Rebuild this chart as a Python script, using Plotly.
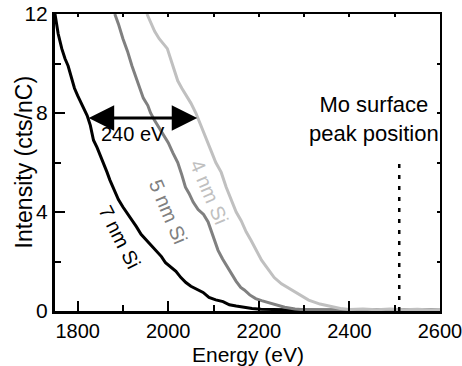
import plotly.graph_objects as go

# 7 nm Si (black)
e7 = [1750, 1753, 1757, 1765, 1772, 1779, 1786, 1793, 1800, 1805, 1812, 1821, 1828, 1835, 1843,
      1850, 1857, 1865, 1871, 1880, 1890, 1900, 1910, 1921, 1930, 1940, 1955, 1972, 1985, 1994,
      2005, 2017, 2028, 2039, 2050, 2065, 2077, 2090, 2105, 2121, 2135, 2150, 2166, 2185, 2205,
      2230, 2260, 2300, 2350, 2400, 2450, 2500, 2550, 2600]
i7 = [12.0, 11.6, 11.2, 10.6, 10.2, 9.9, 9.5, 9.0, 8.7, 8.5, 8.2, 7.9, 7.5, 6.9, 6.6,
      6.3, 6.0, 5.6, 5.3, 4.9, 4.5, 4.2, 3.95, 3.65, 3.4, 3.1, 2.8, 2.5, 2.2, 1.95,
      1.8, 1.6, 1.35, 1.15, 1.0, 0.85, 0.75, 0.55, 0.45, 0.38, 0.25, 0.2, 0.15, 0.1, 0.07,
      0.05, 0.05, 0.04, 0.03, 0.04, 0.03, 0.04, 0.03, 0.03]

# 5 nm Si (dark gray)
e5 = [1882, 1890, 1900, 1910, 1920, 1928, 1935, 1945, 1955, 1961, 1970, 1980, 1990, 2000, 2010,
      2021, 2030, 2038, 2046, 2055, 2066, 2078, 2088, 2097, 2104, 2110, 2120, 2130, 2139, 2150,
      2160, 2168, 2180, 2193, 2206, 2220, 2235, 2257, 2280, 2300, 2340, 2400, 2450, 2500, 2550, 2600]
i5 = [12.0, 11.6, 11.0, 10.5, 9.9, 9.5, 9.1, 8.6, 8.3, 8.0, 7.7, 7.4, 7.1, 6.8, 6.4,
      6.0, 5.5, 5.0, 4.75, 4.4, 4.1, 3.9, 3.6, 3.1, 2.8, 2.45, 2.1, 1.8, 1.5, 1.2,
      0.95, 0.85, 0.65, 0.5, 0.42, 0.35, 0.25, 0.15, 0.08, 0.05, 0.04, 0.05, 0.04, 0.05, 0.04, 0.05]

# 4 nm Si (light gray)
e4 = [1953, 1960, 1970, 1980, 1990, 1998, 2005, 2012, 2021, 2030, 2040, 2050, 2061, 2070, 2080,
      2094, 2105, 2117, 2128, 2139, 2150, 2161, 2172, 2183, 2195, 2206, 2220, 2234, 2250, 2272,
      2290, 2310, 2335, 2361, 2380, 2400, 2430, 2460, 2490, 2520, 2550, 2580, 2600]
i4 = [12.0, 11.7, 11.3, 11.0, 10.8, 10.6, 10.2, 9.8, 9.3, 9.0, 8.7, 8.4, 8.0, 7.6, 7.2,
      6.5, 6.0, 5.6, 5.0, 4.5, 4.0, 3.65, 3.2, 2.85, 2.4, 2.05, 1.7, 1.35, 1.1, 0.85,
      0.65, 0.44, 0.28, 0.16, 0.1, 0.06, 0.08, 0.05, 0.08, 0.05, 0.07, 0.04, 0.06]

x_ticks = [1800, 2000, 2200, 2400, 2600]
y_ticks = [0, 4, 8, 12]
x_range = [1750, 2600]
y_range = [0, 12]
mo_peak = 2510
mo_line_top = 6.1
arrow_from, arrow_to, arrow_y = 1821, 2064, 7.8

FONT = "Arial, Liberation Sans, sans-serif"

fig = go.Figure()
fig.add_trace(go.Scatter(x=e7, y=i7, mode="lines", line=dict(color="#000000", width=3)))
fig.add_trace(go.Scatter(x=e5, y=i5, mode="lines", line=dict(color="#808080", width=3)))
fig.add_trace(go.Scatter(x=e4, y=i4, mode="lines", line=dict(color="#c0c0c0", width=3)))
fig.add_trace(go.Scatter(x=[mo_peak, mo_peak], y=[0, mo_line_top], mode="lines",
                         line=dict(color="#000000", width=2.5, dash="4px,7px")))
# helper trace so the mirrored (top/right) axes get drawn
fig.add_trace(go.Scatter(x=x_range, y=y_range, xaxis="x2", yaxis="y2", mode="markers",
                         marker=dict(opacity=0), hoverinfo="skip"))

fig.update_layout(
    width=462, height=366,
    margin=dict(l=55, r=22, t=14, b=55, autoexpand=False),
    paper_bgcolor="white", plot_bgcolor="white",
    showlegend=False,
    font=dict(family=FONT, size=20, color="black"),
    xaxis=dict(range=x_range, tickvals=x_ticks, ticks="inside", ticklen=10, tickwidth=2,
               tickcolor="black", showline=True, linewidth=3, linecolor="black",
               showgrid=False, zeroline=False, ticklabeloverflow="allow",
               automargin=False,
               minor=dict(dtick=100, tick0=1800, ticks="inside", ticklen=6, tickwidth=2,
                          tickcolor="black", showgrid=False),
               tickfont=dict(size=20)),
    yaxis=dict(range=y_range, tickvals=y_ticks, ticks="inside", ticklen=10, tickwidth=2,
               tickcolor="black", showline=True, linewidth=3, linecolor="black",
               showgrid=False, zeroline=False, ticklabeloverflow="allow", automargin=False,
               minor=dict(dtick=2, tick0=0, ticks="inside", ticklen=6, tickwidth=2,
                          tickcolor="black", showgrid=False),
               tickfont=dict(size=21)),
    xaxis2=dict(range=x_range, overlaying="x", side="top", anchor="y2", ticks="inside",
                ticklen=3, tickwidth=1.5, tickcolor="black", dtick=100, tick0=1800,
                showticklabels=False, showline=True, linewidth=2, linecolor="black",
                showgrid=False, zeroline=False, automargin=False),
    yaxis2=dict(range=y_range, overlaying="y", side="right", anchor="x2", ticks="inside",
                ticklen=3, tickwidth=1.5, tickcolor="black", dtick=2, tick0=0,
                showticklabels=False, showline=True, linewidth=2, linecolor="black",
                showgrid=False, zeroline=False, automargin=False),
)

ann = []
ann.append(dict(x=arrow_to, y=arrow_y, ax=arrow_from, ay=arrow_y, xref="x", yref="y",
                axref="x", ayref="y", text="", showarrow=True, arrowhead=2, startarrowhead=2,
                arrowside="end+start", arrowwidth=3, arrowsize=1.7, startarrowsize=1.7,
                arrowcolor="black"))
ann.append(dict(x=1922, y=7.15, xref="x", yref="y", text="240 eV", showarrow=False,
                font=dict(size=20, color="black")))
ann.append(dict(x=2455, y=7.75, xref="x", yref="y", text="Mo surface<br>peak position",
                showarrow=False, font=dict(size=22, color="black")))
ann.append(dict(x=1893, y=3.0, xref="x", yref="y", text="7 nm Si", showarrow=False,
                textangle=63, font=dict(size=20, color="black")))
ann.append(dict(x=2000, y=4.0, xref="x", yref="y", text="5 nm Si", showarrow=False,
                textangle=67, font=dict(size=20, color="#808080")))
ann.append(dict(x=2090, y=4.8, xref="x", yref="y", text="4 nm Si", showarrow=False,
                textangle=67, font=dict(size=20, color="#c0c0c0")))
ann.append(dict(x=0, y=0.5, xref="paper", yref="paper", xshift=-32, text="Intensity (cts/nC)",
                showarrow=False, textangle=-90, xanchor="center", yanchor="middle",
                font=dict(size=23, color="black")))
ann.append(dict(x=0.5, y=0, xref="paper", yref="paper", yshift=-43, text="Energy (eV)",
                showarrow=False, xanchor="center", yanchor="middle",
                font=dict(size=21, color="black")))
fig.update_layout(annotations=ann)

fig.write_html("out.html")
